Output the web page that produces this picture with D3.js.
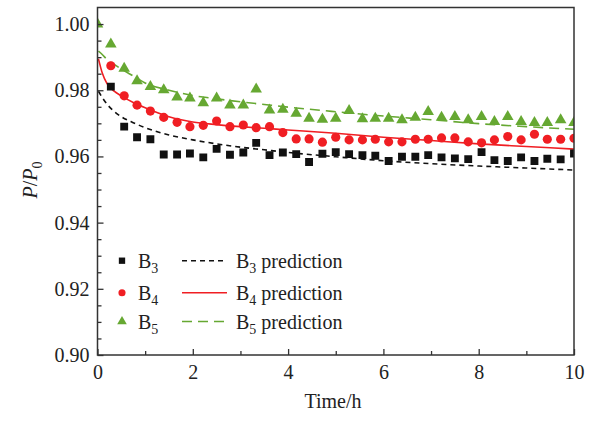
<!DOCTYPE html>
<html>
<head>
<meta charset="utf-8">
<script src="https://cdn.jsdelivr.net/npm/d3@7"></script>
<style>
html,body{margin:0;padding:0;background:#fff;}
svg{display:block;}
text{font-family:"Liberation Serif","Times New Roman",serif;fill:#222;}
</style>
</head>
<body>
<svg id="chart" width="594" height="421"></svg>
<script>
// ---- data ----
const times = [0, 0.28, 0.56, 0.83, 1.11, 1.39, 1.67, 1.94, 2.22, 2.5, 2.78, 3.06, 3.33, 3.61, 3.89, 4.17, 4.44, 4.72, 5.0, 5.28, 5.56, 5.83, 6.11, 6.39, 6.67, 6.94, 7.22, 7.5, 7.78, 8.06, 8.33, 8.61, 8.89, 9.17, 9.44, 9.72, 10.0];
const b3 = [null, 0.9811, 0.9690, 0.9658, 0.9652, 0.9606, 0.9606, 0.9609, 0.9597, 0.9623, 0.9605, 0.9612, 0.9641, 0.9604, 0.9612, 0.9607, 0.9583, 0.9608, 0.9613, 0.9607, 0.9604, 0.9602, 0.9586, 0.9599, 0.9599, 0.9604, 0.9597, 0.9594, 0.9592, 0.9613, 0.9589, 0.9586, 0.9597, 0.9586, 0.9593, 0.9591, 0.9609];
const b4 = [null, 0.9874, 0.9783, 0.9755, 0.9737, 0.9718, 0.9703, 0.9690, 0.9694, 0.9707, 0.9690, 0.9695, 0.9687, 0.9690, 0.9672, 0.9653, 0.9653, 0.9643, 0.9658, 0.9650, 0.9650, 0.9652, 0.9644, 0.9644, 0.9652, 0.9652, 0.9656, 0.9656, 0.9644, 0.9641, 0.9650, 0.9660, 0.9650, 0.9667, 0.9652, 0.9652, 0.9655];
const b5 = [1.000, 0.9939, 0.9866, 0.9828, 0.9811, 0.9801, 0.9779, 0.9776, 0.9762, 0.9776, 0.9755, 0.9755, 0.9803, 0.9740, 0.9742, 0.9730, 0.9715, 0.9712, 0.9715, 0.9738, 0.9713, 0.9715, 0.9715, 0.9710, 0.9718, 0.9735, 0.9718, 0.9720, 0.9710, 0.9720, 0.9705, 0.9720, 0.9705, 0.9702, 0.9702, 0.9710, 0.9702];

const predTimes = [0.02, 0.1, 0.2, 0.35, 0.5, 0.75, 1, 1.5, 2, 2.5, 3, 3.5, 4, 5, 6, 7, 8, 9, 10];
const b3Pred = [0.9797, 0.9778, 0.9758, 0.9736, 0.9720, 0.9702, 0.9687, 0.9665, 0.9650, 0.9638, 0.9628, 0.9620, 0.9612, 0.9599, 0.9587, 0.9578, 0.9571, 0.9565, 0.9559];
const b4Pred = [0.9895, 0.9852, 0.9820, 0.9797, 0.9783, 0.9763, 0.9747, 0.9720, 0.9704, 0.9696, 0.9690, 0.9685, 0.9680, 0.9670, 0.9658, 0.9648, 0.9638, 0.9630, 0.9622];
const b5Pred = [0.9918, 0.9908, 0.9893, 0.9878, 0.9864, 0.9843, 0.9822, 0.9800, 0.9784, 0.9774, 0.9765, 0.9757, 0.9749, 0.9735, 0.9722, 0.9711, 0.9699, 0.9690, 0.9682];

const xTicks = [0, 2, 4, 6, 8, 10];
const yTicks = [0.90, 0.92, 0.94, 0.96, 0.98, 1.00];

// ---- layout ----
const svg = d3.select("#chart");
const L = 97.5, R = 574, T = 7.5, B = 355;
const x = d3.scaleLinear().domain([0, 10]).range([L, R]);
const y = d3.scaleLinear().domain([0.90, 1.005]).range([B, T]);

const cBlack = "#111", cRed = "#f01e23", cGreen = "#66a832";
const FS = 20, SUB = 14;

svg.append("defs").append("clipPath").attr("id", "clip")
  .append("rect").attr("x", L).attr("y", T).attr("width", R - L).attr("height", B - T);

const plot = svg.append("g").attr("clip-path", "url(#clip)");

// prediction lines
const line = d3.line().x(d => x(d[0])).y(d => y(d[1])).curve(d3.curveMonotoneX);
const preds = [
  {v: b3Pred, c: cBlack, dash: "5,4"},
  {v: b4Pred, c: cRed, dash: null},
  {v: b5Pred, c: cGreen, dash: "10,6"}
];
preds.forEach(p => {
  plot.append("path")
    .attr("d", line(predTimes.map((t, i) => [t, p.v[i]])))
    .attr("fill", "none").attr("stroke", p.c).attr("stroke-width", 1.6)
    .attr("stroke-dasharray", p.dash);
});

// markers
const sq = d3.symbol().type(d3.symbolSquare).size(62);
const ci = d3.symbol().type(d3.symbolCircle).size(66);
const tr = d3.symbol().type(d3.symbolTriangle).size(58);

function drawSeries(vals, sym, color) {
  plot.append("g").selectAll("path")
    .data(times.map((t, i) => [t, vals[i]]).filter(d => d[1] != null))
    .join("path")
    .attr("transform", d => `translate(${x(d[0])},${y(d[1])})`)
    .attr("d", sym).attr("fill", color);
}
drawSeries(b3, sq, cBlack);
drawSeries(b4, ci, cRed);
drawSeries(b5, tr, cGreen);

// axes (ticks inward)
const axisColor = "#333";
const xAxis = d3.axisBottom(x).tickValues(xTicks).tickSize(-6).tickPadding(10).tickFormat(d3.format("d"));
const yAxis = d3.axisLeft(y).tickValues(yTicks).tickSize(-6).tickPadding(8).tickFormat(d3.format(".2f"));
const xMinor = d3.axisBottom(x).tickValues(d3.range(1, 10, 2)).tickSize(-4).tickFormat("");
const yMinor = d3.axisLeft(y).tickValues([0.905,0.91,0.915,0.925,0.93,0.935,0.945,0.95,0.955,0.965,0.97,0.975,0.985,0.99,0.995]).tickSize(-4).tickFormat("");

function styleAxis(g) {
  g.select(".domain").remove();
  g.selectAll("line").attr("stroke", axisColor).attr("stroke-width", 1.3);
  g.selectAll("text").attr("font-size", FS).attr("fill", "#222")
    .attr("font-family", "Liberation Serif, Times New Roman, serif");
}
svg.append("g").attr("transform", `translate(0,${B})`).call(xAxis).call(styleAxis);
svg.append("g").attr("transform", `translate(0,${B})`).call(xMinor).call(styleAxis);
svg.append("g").attr("transform", `translate(${L},0)`).call(yAxis).call(styleAxis);
svg.append("g").attr("transform", `translate(${L},0)`).call(yMinor).call(styleAxis);

// frame
svg.append("rect").attr("x", L).attr("y", T).attr("width", R - L).attr("height", B - T)
  .attr("fill", "none").attr("stroke", axisColor).attr("stroke-width", 1.5);

// axis titles
svg.append("text").attr("x", 333).attr("y", 408).attr("text-anchor", "middle")
  .attr("font-size", FS).text("Time/h");
const yt = svg.append("text").attr("transform", "translate(37,180) rotate(-90)")
  .attr("text-anchor", "middle").attr("font-size", FS);
yt.append("tspan").attr("font-style", "italic").text("P");
yt.append("tspan").text("/");
yt.append("tspan").attr("font-style", "italic").text("P");
yt.append("tspan").attr("font-size", SUB).attr("dy", 5).text("0");

// legend
const legendNames = ["3", "4", "5"];
const legendRowsY = [260.7, 292.7, 321.5];
const legSyms = [
  d3.symbol().type(d3.symbolSquare).size(40),
  d3.symbol().type(d3.symbolCircle).size(40),
  d3.symbol().type(d3.symbolTriangle).size(40)
];
const symColors = [cBlack, cRed, cGreen];
legendNames.forEach((n, i) => {
  const yy = legendRowsY[i];
  svg.append("path").attr("transform", `translate(122,${yy})`)
    .attr("d", legSyms[i]).attr("fill", symColors[i]);
  const t1 = svg.append("text").attr("x", 138).attr("y", yy + 7).attr("font-size", FS);
  t1.append("tspan").text("B");
  t1.append("tspan").attr("font-size", SUB).attr("dy", 5).text(n);
  svg.append("line").attr("x1", 182).attr("x2", 227).attr("y1", yy).attr("y2", yy)
    .attr("stroke", symColors[i]).attr("stroke-width", 1.6)
    .attr("stroke-dasharray", preds[i].dash);
  const t2 = svg.append("text").attr("x", 236).attr("y", yy + 7).attr("font-size", FS);
  t2.append("tspan").text("B");
  t2.append("tspan").attr("font-size", SUB).attr("dy", 5).text(n);
  t2.append("tspan").attr("dy", -5).text(" prediction");
});
</script>
</body>
</html>
